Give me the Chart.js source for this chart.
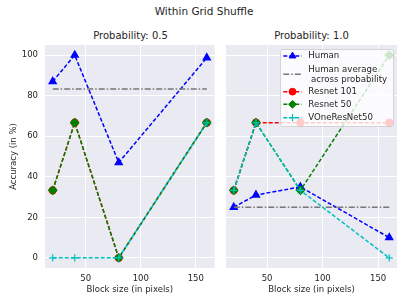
<!DOCTYPE html>
<html>
<head>
<meta charset="utf-8">
<script src="https://cdn.jsdelivr.net/npm/chart.js@4.4.0/dist/chart.umd.min.js"></script>
<style>
body { margin: 0; width: 407px; height: 305px; background: #fff; position: relative; overflow: hidden; font-family: "DejaVu Sans", sans-serif; color: #262626; }
canvas { position: absolute; top: 0; }
.t { position: absolute; white-space: nowrap; transform: translate(-50%, -50%); }
</style>
</head>
<body>
<div class="t" style="left:204px;top:11px;font-size:10.5px">Within Grid Shuffle</div>
<div class="t" style="left:130.5px;top:35px;font-size:10px">Probability: 0.5</div>
<div class="t" style="left:311.5px;top:35px;font-size:10px">Probability: 1.0</div>
<canvas id="c1" width="220" height="305" style="left:0"></canvas>
<canvas id="c2" width="187" height="305" style="left:220px"></canvas>
<script>
// data
var blockSizes = [20, 40, 80, 160]
var xTicks = [50, 100, 150]
var yTicks = [0, 20, 40, 60, 80, 100]

var human05 = [87, 100, 47, 98.7]
var humanAvg05 = 83.3
var resnet101_05 = [33.3, 66.7, 0, 66.7]
var resnet50_05 = [33.3, 66.7, 0, 66.7]
var vone05 = [0, 0, 0, 66.7]

var human10 = [25, 31, 35, 10]
var humanAvg10 = 25
var resnet101_10 = [33.3, 66.7, 66.7, 66.7]
var resnet50_10 = [33.3, 66.7, 33.3, 100]
var vone10 = [33.3, 66.7, 33.3, 0]

var TXT = '#262626'
var FONT = 'DejaVu Sans'

function pts(ys) {
    return blockSizes.map(function (x, i) { return { x: x, y: ys[i] } })
}

function makeSets(human, avg, r101, r50, vone) {
    return [
        { label: 'Human', data: pts(human), borderColor: '#0000ff', backgroundColor: '#0000ff',
          borderWidth: 1.5, borderDash: [4, 2], pointStyle: 'triangle', pointRadius: 3.9, order: 4 },
        { label: ['Human average', ' across probability'], data: [{ x: blockSizes[0], y: avg }, { x: blockSizes[3], y: avg }],
          borderColor: '#777777', backgroundColor: '#777777', borderWidth: 1.5, borderDash: [6, 2, 1.5, 2], pointRadius: 0, order: 3 },
        { label: 'Resnet 101', data: pts(r101), borderColor: '#ff0000', backgroundColor: '#ff0000',
          borderWidth: 1.5, borderDash: [4, 2], pointStyle: 'circle', pointRadius: 3.4, order: 2 },
        { label: 'Resnet 50', data: pts(r50), borderColor: '#008000', backgroundColor: '#008000',
          borderWidth: 1.5, borderDash: [4, 2], pointStyle: 'rectRot', pointRadius: 3.9, order: 1 },
        { label: 'VOneResNet50', data: pts(vone), borderColor: '#00bfbf', backgroundColor: '#00bfbf',
          borderWidth: 1.5, borderDash: [4, 2], pointStyle: 'cross', pointRadius: 3.6, pointBorderWidth: 1.2, order: 0 }
    ]
}

// seaborn-ish grey panel
var panelBg = {
    id: 'panelBg',
    beforeDraw(chart) {
        var a = chart.chartArea, ctx = chart.ctx
        ctx.save()
        ctx.fillStyle = '#eaeaf2'
        ctx.fillRect(a.left, a.top, a.right - a.left, a.bottom - a.top)
        ctx.restore()
    }
}

// legend box inside the plot, upper right
var legendBox = {
    id: 'legendBox',
    afterDatasetsDraw(chart, args, opts) {
        if (!opts.show) return
        var ctx = chart.ctx, a = chart.chartArea
        var w = 113, h = 77
        var x0 = a.right - w - 4, y0 = a.top + 4
        ctx.save()
        ctx.beginPath()
        ctx.roundRect(x0 + 0.5, y0 + 0.5, w, h, 2.5)
        ctx.fillStyle = 'rgba(255,255,255,0.8)'
        ctx.fill()
        ctx.strokeStyle = 'rgba(204,204,204,0.8)'
        ctx.lineWidth = 1
        ctx.stroke()
        var rows = [7, 25.3, 42.7, 55.3, 68.7]
        ctx.font = '8.6px "' + FONT + '"'
        ctx.textBaseline = 'middle'
        chart.data.datasets.forEach(function (ds, i) {
            var y = y0 + rows[i]
            ctx.save()
            ctx.strokeStyle = ds.borderColor
            ctx.lineWidth = ds.borderWidth
            ctx.setLineDash(ds.borderDash)
            ctx.beginPath()
            ctx.moveTo(x0 + 3.3, y)
            ctx.lineTo(x0 + 21.7, y)
            ctx.stroke()
            ctx.restore()
            if (ds.pointRadius > 0) {
                ctx.save()
                ctx.fillStyle = ds.backgroundColor
                ctx.strokeStyle = ds.borderColor
                ctx.lineWidth = ds.pointBorderWidth || 1
                Chart.helpers.drawPoint(ctx, { pointStyle: ds.pointStyle, radius: ds.pointRadius, rotation: 0, borderWidth: ds.pointBorderWidth || 1 }, x0 + 12.5, y)
                ctx.restore()
            }
            ctx.fillStyle = TXT
            var lines = Array.isArray(ds.label) ? ds.label : [ds.label]
            lines.forEach(function (t, k) {
                ctx.fillText(t, x0 + 28.3, y + (k - (lines.length - 1) / 2) * 10)
            })
        })
        ctx.restore()
    }
}

function makeChart(id, sets, showY, padRight, yWidth, showLegend) {
    return new Chart(document.getElementById(id), {
        type: 'line',
        data: { datasets: sets },
        plugins: [panelBg, legendBox],
        options: {
            responsive: false,
            animation: false,
            layout: { padding: { top: 45, right: padRight, bottom: 0, left: 0 } },
            plugins: { legend: { display: false }, tooltip: { enabled: false }, legendBox: { show: showLegend } },
            scales: {
                x: {
                    type: 'linear', min: 13, max: 167,
                    afterBuildTicks: function (s) { s.ticks = xTicks.map(function (v) { return { value: v } }) },
                    afterFit: function (s) { s.height = 37 },
                    grid: { color: '#ffffff', lineWidth: 1, drawTicks: false },
                    border: { display: false },
                    ticks: { color: TXT, font: { size: 8.5, family: FONT }, padding: 6, maxRotation: 0 },
                    title: { display: true, text: 'Block size (in pixels)', color: TXT, font: { size: 8.5, family: FONT }, padding: { top: 0, bottom: 10.5 } }
                },
                y: {
                    min: -5, max: 105,
                    afterBuildTicks: function (s) { s.ticks = yTicks.map(function (v) { return { value: v } }) },
                    afterFit: function (s) { s.width = yWidth },
                    grid: { color: '#ffffff', lineWidth: 1, drawTicks: false },
                    border: { display: false },
                    ticks: { display: showY, color: TXT, font: { size: 8.5, family: FONT }, padding: 7 },
                    title: { display: showY, text: 'Accuracy (in %)', color: TXT, font: { size: 8.5, family: FONT }, padding: { top: 9, bottom: 0 } }
                }
            }
        }
    })
}

makeChart('c1', makeSets(human05, humanAvg05, resnet101_05, resnet50_05, vone05), true, 4, 45, false)
makeChart('c2', makeSets(human10, humanAvg10, resnet101_10, resnet50_10, vone10), false, 10, 6, true)
</script>
</body>
</html>
